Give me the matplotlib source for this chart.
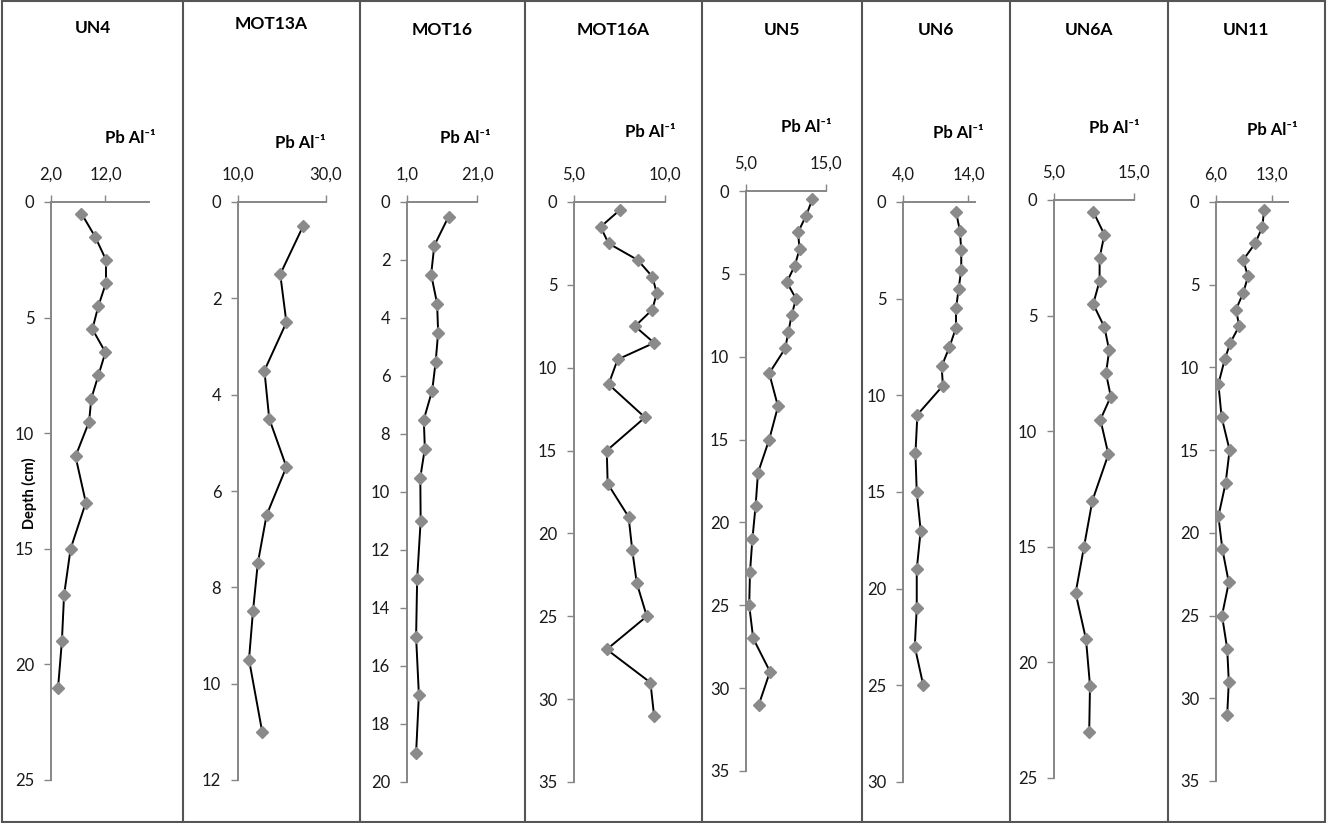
import matplotlib
matplotlib.use("Agg")
from matplotlib import pyplot as plt
from matplotlib.lines import Line2D
from matplotlib.ticker import FuncFormatter
import numpy as np

plt.rcParams["font.family"] = ["Lato", "DejaVu Sans"]

# Core names
cores = ["UN4", "MOT13A", "MOT16", "MOT16A", "UN5", "UN6", "UN6A", "UN11"]

# Depths (cm) and Pb/Al values
un4_depth = [0.5, 1.5, 2.5, 3.5, 4.5, 5.5, 6.5, 7.5, 8.5, 9.5, 11, 13, 15, 17, 19, 21]
un4_pb = [7.6, 10.1, 12.1, 12.1, 10.7, 9.6, 12.0, 10.7, 9.4, 9.0, 6.5, 8.4, 5.6, 4.4, 4.0, 3.3]

mot13a_depth = [0.5, 1.5, 2.5, 3.5, 4.5, 5.5, 6.5, 7.5, 8.5, 9.5, 11]
mot13a_pb = [24.8, 19.6, 21.0, 16.0, 17.1, 21.0, 16.5, 14.5, 13.4, 12.5, 15.5]

mot16_depth = [0.5, 1.5, 2.5, 3.5, 4.5, 5.5, 6.5, 7.5, 8.5, 9.5, 11, 13, 15, 17, 19]
mot16_pb = [12.9, 8.8, 7.9, 9.6, 9.9, 9.2, 8.2, 5.8, 6.1, 4.8, 4.9, 3.9, 3.6, 4.4, 3.6]

mot16a_depth = [0.5, 1.5, 2.5, 3.5, 4.5, 5.5, 6.5, 7.5, 8.5, 9.5, 11, 13, 15, 17,
                19, 21, 23, 25, 27, 29, 31]
mot16a_pb = [7.5, 6.46, 6.9, 8.5, 9.3, 9.55, 9.3, 8.35, 9.4, 7.4, 6.9, 8.9, 6.8, 6.85,
             8.0, 8.2, 8.45, 9.0, 6.8, 9.2, 9.4]

un5_depth = [0.5, 1.5, 2.5, 3.5, 4.5, 5.5, 6.5, 7.5, 8.5, 9.5, 11, 13, 15, 17,
             19, 21, 23, 25, 27, 29, 31]
un5_pb = [13.3, 12.5, 11.5, 11.7, 11.1, 10.1, 11.25, 10.7, 10.3, 9.9, 7.9, 9.0, 7.9, 6.5,
          6.2, 5.8, 5.5, 5.4, 5.9, 8.0, 6.6]

un6_depth = [0.5, 1.5, 2.5, 3.5, 4.5, 5.5, 6.5, 7.5, 8.5, 9.5, 11, 13, 15, 17, 19, 21, 23, 25]
un6_pb = [12.1, 12.7, 12.9, 12.9, 12.5, 12.1, 12.1, 11.1, 9.9, 10.1, 6.2, 5.9, 6.1, 6.7,
          6.1, 6.1, 5.8, 7.1]

un6a_depth = [0.5, 1.5, 2.5, 3.5, 4.5, 5.5, 6.5, 7.5, 8.5, 9.5, 11, 13, 15, 17, 19, 21, 23]
un6a_pb = [9.9, 11.3, 10.7, 10.7, 9.9, 11.3, 11.9, 11.5, 12.1, 10.8, 11.8, 9.8, 8.75,
           7.7, 9.0, 9.5, 9.4]

un11_depth = [0.5, 1.5, 2.5, 3.5, 4.5, 5.5, 6.5, 7.5, 8.5, 9.5, 11, 13, 15, 17,
              19, 21, 23, 25, 27, 29, 31]
un11_pb = [12.0, 11.8, 10.9, 9.4, 10.0, 9.4, 8.5, 8.9, 7.8, 7.1, 6.3, 6.7, 7.7, 7.2,
           6.3, 6.8, 7.6, 6.75, 7.4, 7.6, 7.4]

depths = [un4_depth, mot13a_depth, mot16_depth, mot16a_depth,
          un5_depth, un6_depth, un6a_depth, un11_depth]
values = [un4_pb, mot13a_pb, mot16_pb, mot16a_pb, un5_pb, un6_pb, un6a_pb, un11_pb]

# Axis scales per core
x_limits = [(2, 20), (10, 30), (1, 21), (5, 10), (5, 15), (4, 15), (5, 15), (6, 15)]
x_ticks = [[2, 12], [10, 30], [1, 21], [5, 10], [5, 15], [4, 14], [5, 15], [6, 13]]
y_max = [25, 12, 20, 35, 35, 30, 25, 35]
y_step = [5, 2, 2, 5, 5, 5, 5, 5]

# Layout in pixels: axis left, axis right, top (depth 0), bottom (max depth)
W, H = 1329, 823
boxes = [(51, 149, 202, 780), (238, 326, 202, 780), (407, 477, 202, 782),
         (574, 665, 202, 782), (746, 826, 191, 771), (903, 975, 202, 782),
         (1054, 1134, 200, 778), (1216, 1288, 202, 781)]
separators = [183, 360, 525, 702, 862, 1010, 1168]
title_y = [28, 24, 30, 30, 30, 30, 30, 30]
unit_label = [(130, 138), (300, 143), (465, 138), (650, 132),
              (806, 127), (958, 133), (1114, 128), (1272, 130)]

grey = "#868686"

figure = plt.figure(figsize=(W / 100, H / 100), dpi=100)

for i, name in enumerate(cores):
    left, right, top, bottom = boxes[i]
    rect = [left / W, 1 - bottom / H, (right - left) / W, (bottom - top) / H]
    axis = figure.add_axes(rect)

    axis.plot(values[i], depths[i], color="black", linewidth=1.4, zorder=2)
    axis.plot(values[i], depths[i], linestyle="none", marker="D", markersize=6,
              color="#8a8a8a", markeredgecolor="#8a8a8a", zorder=3)

    axis.set_xlim(*x_limits[i])
    axis.set_ylim(y_max[i], 0)
    axis.set_xticks(x_ticks[i])
    axis.set_yticks(np.arange(0, y_max[i] + 1, y_step[i]))
    axis.xaxis.set_major_formatter(FuncFormatter(lambda v, p: ("%.1f" % v).replace(".", ",")))

    axis.xaxis.tick_top()
    axis.tick_params(axis="x", direction="out", length=5, width=1, color=grey,
                     labelsize=12, pad=9, labelcolor="#1a1a1a")
    axis.tick_params(axis="y", direction="out", length=5, width=1, color=grey,
                     labelsize=12, pad=7, labelcolor="#1a1a1a")

    for side in ["right", "bottom"]:
        axis.spines[side].set_visible(False)
    for side in ["left", "top"]:
        axis.spines[side].set_color(grey)
        axis.spines[side].set_linewidth(1.4)
    axis.spines["top"].set_position(("data", 0))
    axis.patch.set_visible(False)

    # panel title
    cx = ((separators[i - 1] if i > 0 else 2) + (separators[i] if i < 7 else 1325)) / 2
    figure.text(cx / W, 1 - title_y[i] / H, name, ha="center", va="center",
                fontsize=12.5, fontweight="bold")
    ux, uy = unit_label[i]
    figure.text(ux / W, 1 - uy / H, "Pb Al\u207b\u00b9", ha="center", va="center",
                fontsize=12, fontweight="bold")

# depth label on the first core only
figure.text(29 / W, 1 - 493 / H, "Depth (cm)", rotation=90, ha="center", va="center",
            fontsize=10.5, fontweight="bold")

# panel borders
for x in separators:
    figure.add_artist(Line2D([x / W, x / W], [0, 1], color="#555555", linewidth=1.5))
for x in [2, 1325]:
    figure.add_artist(Line2D([x / W, x / W], [0, 1], color="#555555", linewidth=1.5))
figure.add_artist(Line2D([2 / W, 1325 / W], [1 - 1 / H, 1 - 1 / H], color="#555555", linewidth=1.5))
figure.add_artist(Line2D([2 / W, 1325 / W], [1 / H, 1 / H], color="#555555", linewidth=1.5))

figure.savefig("out.png", dpi=100)
